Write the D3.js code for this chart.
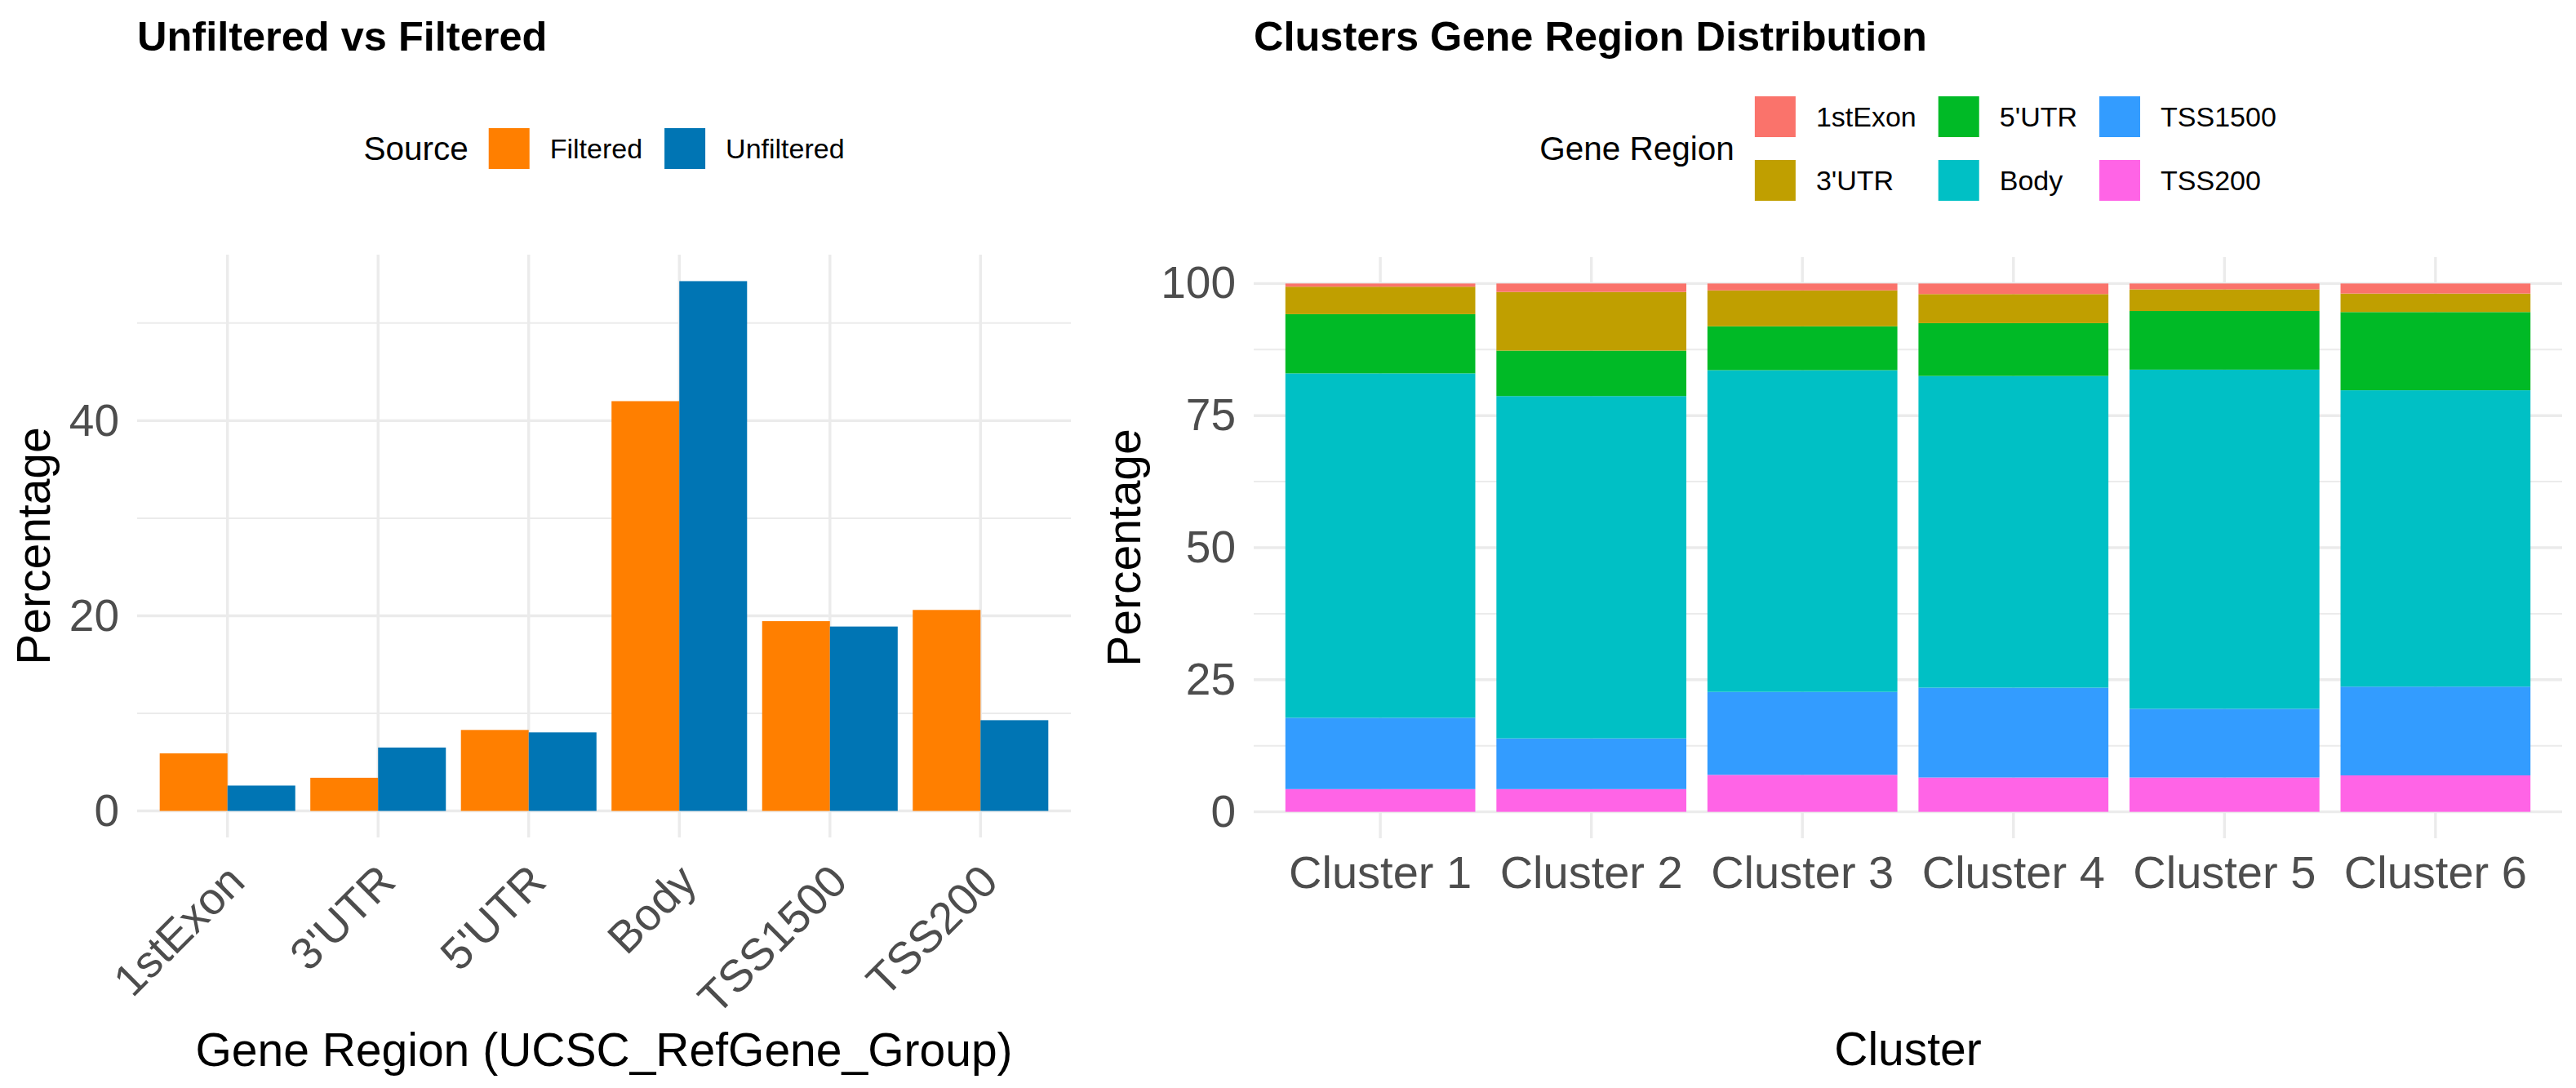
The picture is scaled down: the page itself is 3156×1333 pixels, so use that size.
<!DOCTYPE html>
<html>
<head>
<meta charset="utf-8">
<script src="https://cdn.jsdelivr.net/npm/d3@7"></script>
<style>
  body { margin: 0; background: #ffffff; }
  svg { display: block; font-family: "Liberation Sans", Arial, Helvetica, sans-serif; }
</style>
</head>
<body>
<div id="chart"></div>
<script>
// Left panel data: share of probes per gene region
var regions = ["1stExon", "3'UTR", "5'UTR", "Body", "TSS1500", "TSS200"];
var sources = ["Filtered", "Unfiltered"];
var filteredPct = [5.9, 3.4, 8.3, 42.0, 19.45, 20.6];
var unfilteredPct = [2.6, 6.5, 8.05, 54.3, 18.9, 9.3];
var leftTicks = [0, 20, 40];
var leftMinor = [10, 30, 50];

// Right panel data: gene region distribution per cluster
var clusters = ["Cluster 1", "Cluster 2", "Cluster 3", "Cluster 4", "Cluster 5", "Cluster 6"];
var exon1st = [0.6, 1.6, 1.3, 2.0, 1.1, 1.9];
var utr3 = [5.2, 11.1, 6.8, 5.5, 4.1, 3.5];
var utr5 = [11.2, 8.6, 8.3, 10.0, 11.1, 14.8];
var bodyPct = [65.2, 64.8, 60.9, 59.0, 64.2, 56.1];
var tss1500 = [13.5, 9.6, 15.7, 17.0, 13.0, 16.8];
var tss200 = [4.3, 4.3, 7.0, 6.5, 6.5, 6.9];
var rightTicks = [0, 25, 50, 75, 100];
var rightMinor = [12.5, 37.5, 62.5, 87.5];

// Colors
var sourceColors = ["#FF7F00", "#0075B4"];
var regionColors = ["#FA736B", "#C09F00", "#00BA26", "#00C0C5", "#339CFF", "#FF64E6"];
var gridColor = "#EBEBEB";
var tickColor = "#4D4D4D";

// Dimensions
const W = 3156, H = 1333;
const L = { x0: 168, x1: 1312, top: 312, bottom: 1026 };
const R = { x0: 1536, x1: 3139, top: 315, bottom: 1027 };
const titleBase = 62;
const titleSize = 50.5;
const axisTitleSize = 57;
const tickSize = 55;
const legendTitleSize = 40.5;
const legendTextSize = 34;
const keySize = 50;

var svg = d3.select("#chart").append("svg")
  .attr("width", W)
  .attr("height", H);

svg.append("rect").attr("width", W).attr("height", H).attr("fill", "#ffffff");

function textAttr(selection, fill, size, weight) {
  selection
    .attr("fill", fill)
    .attr("font-size", size)
    .attr("font-weight", weight || "normal");
}

/*
Horizontal major/minor grid plus vertical lines at category centres.
*/
function drawGrid(g, panel, y, major, minor, xCenters) {
  g.selectAll("line.minor")
    .data(minor)
    .enter()
    .append("line")
    .attr("x1", panel.x0).attr("x2", panel.x1)
    .attr("y1", d => y(d)).attr("y2", d => y(d))
    .attr("stroke", gridColor).attr("stroke-width", 2);
  g.selectAll("line.major")
    .data(major)
    .enter()
    .append("line")
    .attr("x1", panel.x0).attr("x2", panel.x1)
    .attr("y1", d => y(d)).attr("y2", d => y(d))
    .attr("stroke", gridColor).attr("stroke-width", 3.4);
  g.selectAll("line.vert")
    .data(xCenters)
    .enter()
    .append("line")
    .attr("x1", d => d).attr("x2", d => d)
    .attr("y1", panel.top).attr("y2", panel.bottom)
    .attr("stroke", gridColor).attr("stroke-width", 3.4);
}

function drawYAxis(panel, y, ticks) {
  let g = svg.append("g")
    .attr("transform", `translate(${panel.x0},0)`)
    .call(d3.axisLeft(y).tickValues(ticks).tickSize(0).tickPadding(22));
  g.select(".domain").remove();
  g.attr("font-family", null).attr("font-size", null);
  g.selectAll("text").call(textAttr, tickColor, tickSize);
}

function drawYTitle(x, panel) {
  let cy = (panel.top + panel.bottom) / 2;
  svg.append("text")
    .attr("transform", `translate(${x},${cy}) rotate(-90)`)
    .attr("text-anchor", "middle")
    .text("Percentage")
    .call(textAttr, "#000000", axisTitleSize);
}

/*
Legend centred over a panel; keys are laid out column by column.
*/
function drawLegend(title, keys, colors, rows, centerX, centerY) {
  let g = svg.append("g");
  let title_ = g.append("text")
    .attr("x", 0).attr("y", centerY).attr("dy", "0.35em")
    .text(title)
    .call(textAttr, "#000000", legendTitleSize);
  let x = title_.node().getComputedTextLength() + 25;
  let cols = Math.ceil(keys.length / rows);
  let blockH = rows * keySize + (rows - 1) * 28;
  for (let c = 0; c < cols; c++) {
    let colW = 0;
    for (let r = 0; r < rows; r++) {
      let i = c * rows + r;
      if (i >= keys.length) break;
      let y0 = centerY - blockH / 2 + r * (keySize + 28);
      g.append("rect")
        .attr("x", x).attr("y", y0)
        .attr("width", keySize).attr("height", keySize)
        .attr("fill", colors[i]);
      let t = g.append("text")
        .attr("x", x + keySize + 25).attr("y", y0 + keySize / 2).attr("dy", "0.35em")
        .text(keys[i])
        .call(textAttr, "#000000", legendTextSize);
      colW = Math.max(colW, t.node().getComputedTextLength());
    }
    x = x + keySize + 25 + colW + 27;
  }
  let total = x - 27;
  g.attr("transform", `translate(${centerX - total / 2},0)`);
}

// ---------- Left panel: Unfiltered vs Filtered ----------
var xL = d3.scaleBand().domain(regions).range([L.x0, L.x1])
  .paddingInner(0.1).paddingOuter(0.15);
var xSub = d3.scaleBand().domain(sources).range([0, xL.bandwidth()]);
var maxL = d3.max(filteredPct.concat(unfilteredPct));
var yL = d3.scaleLinear().domain([-0.05 * maxL, 1.05 * maxL]).range([L.bottom, L.top]);
var colorL = d3.scaleOrdinal().domain(sources).range(sourceColors);

var gridL = svg.append("g");
drawGrid(gridL, L, yL, leftTicks, leftMinor, regions.map(r => xL(r) + xL.bandwidth() / 2));

var barsL = [];
regions.forEach(function(r, i) {
  barsL.push({ region: r, source: "Filtered", value: filteredPct[i] });
  barsL.push({ region: r, source: "Unfiltered", value: unfilteredPct[i] });
});

svg.append("g")
  .selectAll("rect")
  .data(barsL)
  .enter()
  .append("rect")
  .attr("x", d => xL(d.region) + xSub(d.source))
  .attr("y", d => yL(d.value))
  .attr("width", xSub.bandwidth())
  .attr("height", d => yL(0) - yL(d.value))
  .attr("fill", d => colorL(d.source));

drawYAxis(L, yL, leftTicks);

// rotated category labels
svg.append("g")
  .selectAll("text")
  .data(regions)
  .enter()
  .append("text")
  .attr("text-anchor", "end")
  .attr("transform", d => {
    let px = xL(d) + xL.bandwidth() / 2 + 24;
    let py = 1083;
    return `translate(${px},${py}) rotate(-45)`;
  })
  .text(d => d)
  .call(textAttr, tickColor, tickSize);

svg.append("text")
  .attr("x", (L.x0 + L.x1) / 2).attr("y", 1306)
  .attr("text-anchor", "middle")
  .text("Gene Region (UCSC_RefGene_Group)")
  .call(textAttr, "#000000", axisTitleSize);

drawYTitle(61, L);

svg.append("text")
  .attr("x", L.x0).attr("y", titleBase)
  .text("Unfiltered vs Filtered")
  .call(textAttr, "#000000", titleSize, "bold");

drawLegend("Source", sources, sourceColors, 1, (L.x0 + L.x1) / 2, 182);

// ---------- Right panel: Clusters Gene Region Distribution ----------
var rows = clusters.map(function(c, i) {
  return {
    cluster: c,
    "1stExon": exon1st[i],
    "3'UTR": utr3[i],
    "5'UTR": utr5[i],
    "Body": bodyPct[i],
    "TSS1500": tss1500[i],
    "TSS200": tss200[i]
  };
});
var colorR = d3.scaleOrdinal().domain(regions).range(regionColors);
// ggplot stacks the first level on top
var series = d3.stack().keys(regions.slice().reverse())(rows);

var xR = d3.scaleBand().domain(clusters).range([R.x0, R.x1])
  .paddingInner(0.1).paddingOuter(0.15);
var yR = d3.scaleLinear().domain([-5, 105]).range([R.bottom, R.top]);

var gridR = svg.append("g");
drawGrid(gridR, R, yR, rightTicks, rightMinor, clusters.map(c => xR(c) + xR.bandwidth() / 2));

svg.append("g")
  .selectAll("g")
  .data(series)
  .enter()
  .append("g")
  .attr("fill", d => colorR(d.key))
  .selectAll("rect")
  .data(d => d)
  .enter()
  .append("rect")
  .attr("x", d => xR(d.data.cluster))
  .attr("y", d => yR(d[1]))
  .attr("width", xR.bandwidth())
  .attr("height", d => yR(d[0]) - yR(d[1]));

drawYAxis(R, yR, rightTicks);

var axR = svg.append("g")
  .attr("transform", `translate(0,${R.bottom})`)
  .call(d3.axisBottom(xR).tickSize(0));
axR.select(".domain").remove();
axR.attr("font-family", null).attr("font-size", null);
axR.selectAll("text")
  .attr("dy", null)
  .attr("y", 1088 - R.bottom)
  .call(textAttr, tickColor, 56);

svg.append("text")
  .attr("x", (R.x0 + R.x1) / 2).attr("y", 1305)
  .attr("text-anchor", "middle")
  .text("Cluster")
  .call(textAttr, "#000000", axisTitleSize);

drawYTitle(1397, R);

svg.append("text")
  .attr("x", R.x0).attr("y", titleBase)
  .text("Clusters Gene Region Distribution")
  .call(textAttr, "#000000", titleSize, "bold");

drawLegend("Gene Region", regions, regionColors, 2, (R.x0 + R.x1) / 2, 182);
</script>
</body>
</html>
